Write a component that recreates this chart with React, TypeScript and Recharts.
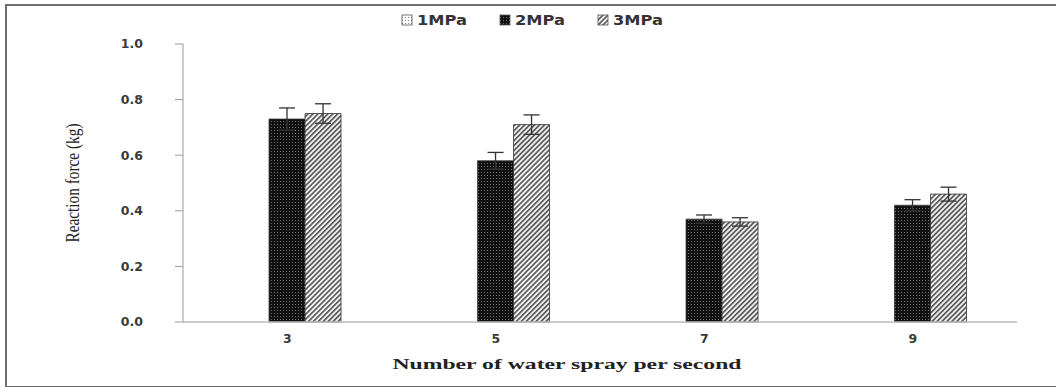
import React from "react";
import { Bar, BarChart, ErrorBar, Legend, XAxis, YAxis } from "recharts";

// sprays per second
const categories = ["3", "5", "7", "9"];
// reaction force (kg) by nozzle pressure; 1 MPa has no measurements
const mpa1: (number | null)[] = [null, null, null, null];
const mpa2 = [0.73, 0.58, 0.37, 0.42];
const mpa3 = [0.75, 0.71, 0.36, 0.46];
const err2 = [0.04, 0.03, 0.015, 0.02];
const err3 = [0.035, 0.035, 0.015, 0.025];
const yTicks = [0, 0.2, 0.4, 0.6, 0.8, 1.0];

const series = [
  { key: "mpa1", name: "1MPa", fill: "url(#dots1)" },
  { key: "mpa2", name: "2MPa", fill: "url(#dots2)" },
  { key: "mpa3", name: "3MPa", fill: "url(#hatch3)" },
];

const data = categories.map((c, i) => ({
  spray: c,
  mpa1: mpa1[i],
  mpa2: mpa2[i],
  mpa3: mpa3[i],
  err2: err2[i],
  err3: err3[i],
}));

const tickFont = { fontFamily: "DejaVu Sans", fontWeight: 700, fontSize: 12.5, fill: "#3a3a3a" };

function LegendBox() {
  return (
    <svg width={280} height={20}>
      {series.map((s, i) => (
        <g key={s.key} transform={`translate(${i * 98},0)`}>
          <rect x={1} y={5} width={10} height={10} fill={s.fill} stroke="#555" strokeWidth={0.8} />
          <text x={16} y={10} dominantBaseline="central" textLength={50} lengthAdjust="spacingAndGlyphs"
            style={{ fontFamily: "DejaVu Sans", fontWeight: 700, fontSize: 13.5, fill: "#333" }}>
            {s.name}
          </text>
        </g>
      ))}
    </svg>
  );
}

function YTitle(props: any) {
  const vb = props.viewBox;
  const cx = vb.x + 12;
  const cy = vb.y + vb.height / 2;
  return (
    <text transform={`translate(${cx},${cy}) rotate(-90)`} textAnchor="middle" dominantBaseline="central"
      textLength={119} lengthAdjust="spacingAndGlyphs"
      style={{ fontFamily: "Liberation Serif", fontSize: 19, fill: "#222" }}>
      Reaction force (kg)
    </text>
  );
}

function XTitle(props: any) {
  const vb = props.viewBox;
  const cx = vb.x + vb.width / 2 - 33;
  return (
    <text x={cx} y={vb.y + 41} textAnchor="middle" dominantBaseline="central"
      textLength={349} lengthAdjust="spacingAndGlyphs"
      style={{ fontFamily: "Liberation Serif", fontWeight: 700, fontSize: 15.5, fill: "#222" }}>
      Number of water spray per second
    </text>
  );
}

export default function App() {
  return (
    <div style={{ position: "absolute", left: 0, top: 0, width: 1056, height: 387, overflow: "hidden", background: "#fff" }}>
      <div style={{ position: "absolute", left: 5, top: 4, width: 1100, height: 380, border: "2px solid #6e6e6e" }} />
      <BarChart width={1056} height={387} data={data} barGap={0} barCategoryGap="24%"
        margin={{ top: 24, right: 39, bottom: 35, left: 60 }} style={{ position: "absolute", left: 0, top: 0 }}>
        <defs>
          <pattern id="dots1" width="3" height="3" patternUnits="userSpaceOnUse">
            <rect width="3" height="3" fill="#fff" />
            <rect x="1" y="1" width="1" height="1" fill="#888" />
          </pattern>
          <pattern id="dots2" width="3" height="3" patternUnits="userSpaceOnUse">
            <rect width="3" height="3" fill="#111" />
            <rect x="1" y="1" width="1" height="1" fill="#707070" />
          </pattern>
          <pattern id="hatch3" width="3.5" height="3.5" patternUnits="userSpaceOnUse" patternTransform="rotate(45)">
            <rect width="3.5" height="3.5" fill="#f4f4f4" />
            <rect width="1.7" height="3.5" fill="#5a5a5a" />
          </pattern>
        </defs>
        <Legend verticalAlign="top" align="left" content={() => <LegendBox />}
          wrapperStyle={{ top: 10, left: 401, width: 280, height: 20 }} />
        <XAxis dataKey="spray" axisLine={{ stroke: "#bdbdbd", strokeWidth: 1.5 }} tickLine={false}
          tickSize={0} tickMargin={12} height={30} tick={tickFont} label={<XTitle />} />
        <YAxis domain={[0, 1]} ticks={yTicks} width={123} tickFormatter={(v: number) => v.toFixed(1)}
          axisLine={{ stroke: "#9a9a9a" }} tickLine={{ stroke: "#9a9a9a" }} tickSize={8} tickMargin={32}
          tick={tickFont} label={<YTitle />} />
        {series.map((s) => (
          <Bar key={s.key} dataKey={s.key} name={s.name} fill={s.fill} stroke="#333" strokeWidth={0.8}
            isAnimationActive={false}>
            {s.key === "mpa2" && <ErrorBar dataKey="err2" width={8} stroke="#333" strokeWidth={1.3} direction="y" />}
            {s.key === "mpa3" && <ErrorBar dataKey="err3" width={8} stroke="#333" strokeWidth={1.3} direction="y" />}
          </Bar>
        ))}
      </BarChart>
    </div>
  );
}
